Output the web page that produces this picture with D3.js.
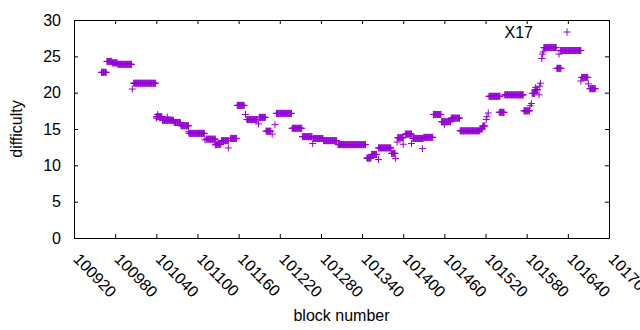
<!DOCTYPE html>
<html>
<head>
<meta charset="utf-8">
<script src="https://cdn.jsdelivr.net/npm/d3@7"></script>
<style>
  body { margin: 0; background: #fff; }
  text { font-family: "Liberation Sans", Arial, sans-serif; }
</style>
</head>
<body>
<div id="chart"></div>
<script>
// runs of blocks that share the same difficulty: [first block, last block, difficulty]
const runs = [
  [100960, 100967, 22.8], [100968, 100975, 24.3], [100976, 100983, 24.1],
  [100984, 101004, 23.9], [101007, 101039, 21.3], [101040, 101048, 16.7],
  [101049, 101065, 16.2], [101066, 101075, 15.9], [101076, 101087, 15.45],
  [101088, 101110, 14.4], [101113, 101126, 13.6], [101127, 101134, 12.9],
  [101135, 101145, 13.4], [101148, 101157, 13.7], [101158, 101168, 18.25],
  [101172, 101187, 16.3], [101190, 101199, 16.6], [101200, 101207, 14.7],
  [101215, 101237, 17.15], [101238, 101252, 15.1], [101253, 101267, 13.95],
  [101269, 101283, 13.7], [101284, 101303, 13.4], [101305, 101345, 12.85],
  [101347, 101353, 11.0], [101354, 101361, 11.5], [101364, 101382, 12.4],
  [101383, 101388, 11.65], [101392, 101400, 13.8], [101403, 101412, 14.3],
  [101414, 101429, 13.7], [101430, 101443, 13.85], [101444, 101455, 17.0],
  [101456, 101469, 16.0], [101470, 101482, 16.5], [101483, 101511, 14.75],
  [101512, 101515, 15.0], [101516, 101519, 15.4], [101525, 101541, 19.5],
  [101540, 101547, 17.3], [101548, 101575, 19.7], [101576, 101584, 17.5],
  [101588, 101592, 19.9], [101592, 101596, 20.4], [101605, 101623, 26.2],
  [101624, 101630, 23.35], [101629, 101659, 25.8], [101660, 101669, 22.1],
  [101672, 101680, 20.55]
];

// single blocks off the runs
const singleBlocks = [101005, 101040, 101042, 101056, 101087, 101111, 101126, 101145,
  101170, 101189, 101209, 101213, 101268, 101364, 101389, 101391, 101400, 101412,
  101428, 101460, 101521, 101522, 101524, 101585, 101587, 101593, 101598, 101599,
  101600, 101602, 101603, 101604, 101627, 101659, 101670];
const singleValues = [20.5, 16.5, 17.0, 16.65, 14.6, 13.5, 12.8, 12.4,
  17.0, 15.7, 14.3, 15.6, 13.0, 10.8, 10.95, 13.2, 12.9, 13.0,
  12.3, 15.6, 16.3, 16.7, 17.2, 18.2, 18.5, 20.7, 19.7, 20.9,
  21.3, 24.7, 25.3, 25.6, 25.3, 21.6, 21.2];

const xTicks = [100920, 100980, 101040, 101100, 101160, 101220, 101280,
  101340, 101400, 101460, 101520, 101580, 101640, 101700];
const yTicks = [0, 5, 10, 15, 20, 25, 30];

const seriesName = "X17";
const color = "#9400d3";

const margin = { top: 20, right: 31, bottom: 92, left: 74 },
  width = 640 - margin.left - margin.right,
  height = 330 - margin.top - margin.bottom;

const svg = d3.select("#chart")
  .append("svg")
  .attr("width", 640)
  .attr("height", 330)
  .append("g")
  .attr("transform", "translate(" + margin.left + "," + margin.top + ")");

const x = d3.scaleLinear().domain([100920, 101700]).range([0, width]);
const y = d3.scaleLinear().domain([0, 30]).range([height, 0]);

// one point per block
const points = [];
runs.forEach(r => {
  for (let b = r[0]; b <= r[1]; b++) points.push({ block: b, value: r[2] });
});
singleBlocks.forEach((b, i) => points.push({ block: b, value: singleValues[i] }));

const s = 3.5; // half size of the "+" marker
const plus = (cx, cy) => `M${cx - s},${cy}h${2 * s}M${cx},${cy - s}v${2 * s}`;

// axes, ticks pointing inwards on all four sides
const xAxis = svg.append("g")
  .attr("transform", "translate(0," + height + ")")
  .call(d3.axisBottom(x).tickValues(xTicks).tickSize(-4).tickSizeOuter(0).tickFormat(d3.format("d")));
xAxis.selectAll("text")
  .attr("x", 0)
  .attr("y", 0)
  .attr("dy", "0.35em")
  .attr("transform", "translate(2,18) rotate(46)")
  .style("text-anchor", "start");

svg.append("g")
  .call(d3.axisTop(x).tickValues(xTicks).tickSize(-4).tickSizeOuter(0).tickFormat(""));

svg.append("g")
  .call(d3.axisLeft(y).tickValues(yTicks).tickSize(-4).tickSizeOuter(0).tickPadding(13));

svg.append("g")
  .attr("transform", "translate(" + width + ",0)")
  .call(d3.axisRight(y).tickValues(yTicks).tickSize(-4).tickSizeOuter(0).tickFormat(""));

svg.selectAll(".tick text")
  .style("font-size", "16px")
  .attr("fill", "#000");
svg.selectAll(".domain, .tick line").attr("stroke", "#000");

// points
svg.append("g")
  .attr("fill", "none")
  .attr("stroke", color)
  .attr("stroke-width", 1)
  .selectAll("path")
  .data(points)
  .join("path")
  .attr("d", d => plus(x(d.block), y(d.value)));

// key
svg.append("text")
  .attr("x", 459)
  .attr("y", 12)
  .attr("dy", "0.35em")
  .attr("text-anchor", "end")
  .style("font-size", "16px")
  .text(seriesName);
svg.append("path")
  .attr("d", plus(493, 12))
  .attr("fill", "none")
  .attr("stroke", color);

// axis titles
svg.append("text")
  .attr("x", width / 2)
  .attr("y", height + 83)
  .attr("text-anchor", "middle")
  .style("font-size", "16px")
  .text("block number");

svg.append("text")
  .attr("transform", "rotate(-90)")
  .attr("x", -height / 2)
  .attr("y", -52)
  .attr("text-anchor", "middle")
  .style("font-size", "16px")
  .text("difficulty");
</script>
</body>
</html>
